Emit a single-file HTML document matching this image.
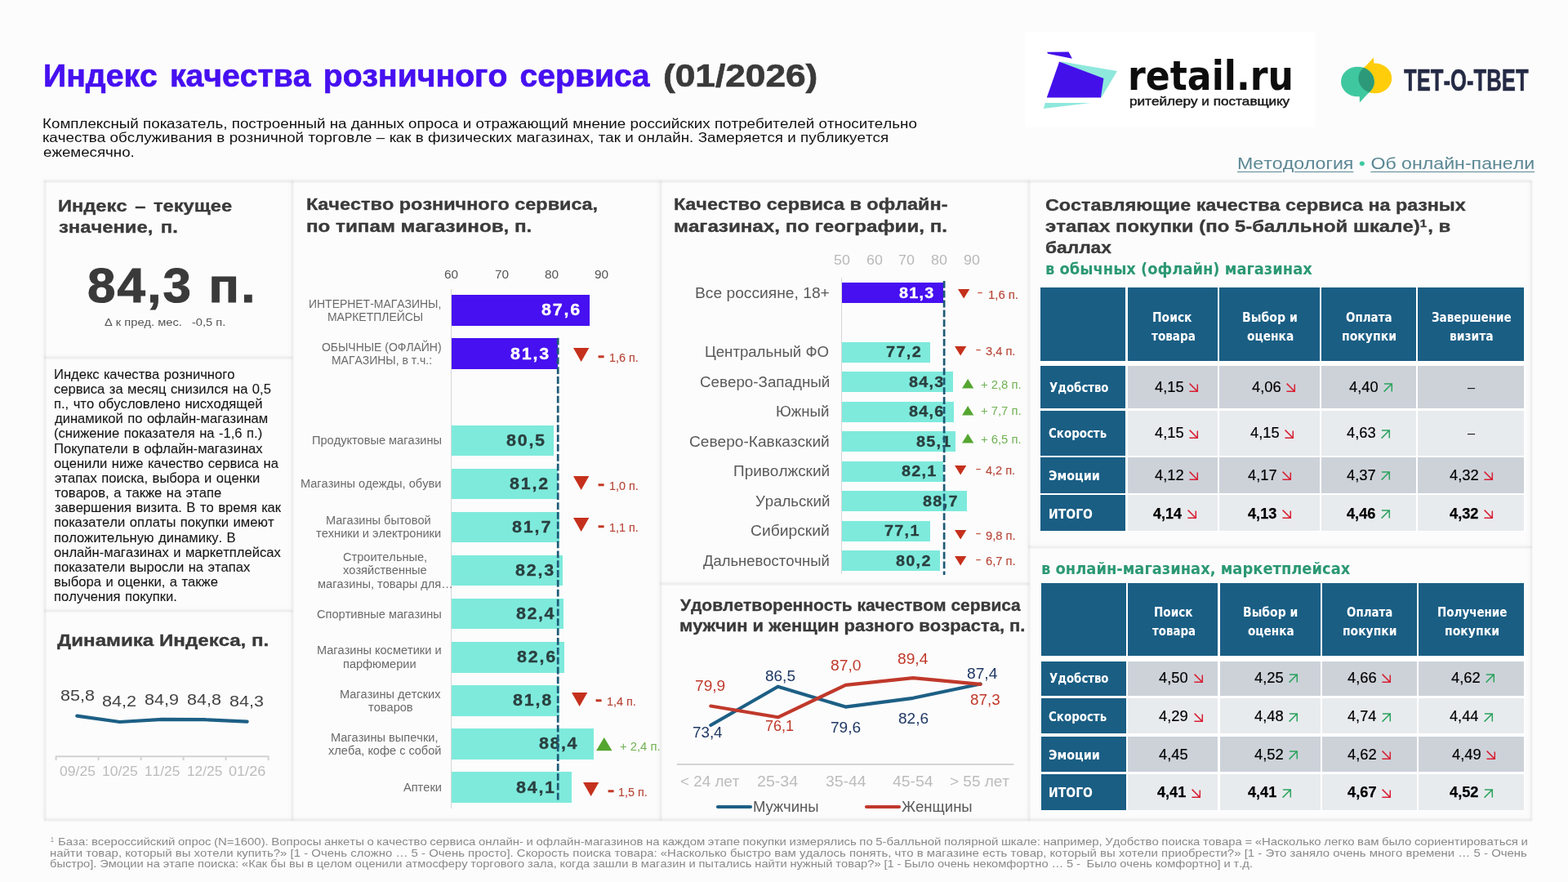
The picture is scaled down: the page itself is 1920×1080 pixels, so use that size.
<!DOCTYPE html>
<html lang="ru"><head><meta charset="utf-8"><title>Индекс качества розничного сервиса (01/2026)</title>
<style>
html,body{margin:0;padding:0}
body{width:1920px;height:1080px;overflow:hidden;background:#fcfcfc;position:relative;font-family:"Liberation Sans",sans-serif}
.t{position:absolute;white-space:pre;line-height:1;transform-origin:0 0;font-kerning:none;font-variant-ligatures:none}
h1,h2,h3,p,nav,footer{margin:0;padding:0;font:inherit}
.r,.s,.card{position:absolute}
.s{overflow:visible}
.card{background:#fcfcfc}
.gl{position:absolute;box-shadow:0 0 2.4px 0.7px rgba(0,0,0,.115),-2.5px -2.5px 5px 1px rgba(0,0,0,.03)}
a{color:inherit}
</style></head><body>
<div class="gl" style="left:55.30px;top:222.40px;width:0;height:781.30px"></div>
<div class="gl" style="left:358.40px;top:222.40px;width:0;height:781.30px"></div>
<div class="gl" style="left:809.30px;top:222.40px;width:0;height:781.30px"></div>
<div class="gl" style="left:1259.60px;top:222.40px;width:0;height:781.30px"></div>
<div class="gl" style="left:1875.00px;top:222.40px;width:0;height:781.30px"></div>
<div class="gl" style="left:55.30px;top:222.40px;width:1819.70px;height:0"></div>
<div class="gl" style="left:55.30px;top:1003.70px;width:1819.70px;height:0"></div>
<div class="gl" style="left:55.30px;top:437.50px;width:303.10px;height:0"></div>
<div class="gl" style="left:55.30px;top:747.50px;width:303.10px;height:0"></div>
<div class="gl" style="left:809.30px;top:715.30px;width:450.30px;height:0"></div>
<div class="gl" style="left:1259.60px;top:669.80px;width:615.40px;height:0"></div>
<h1>
<span class="t" style="left:53.20px;top:74.40px;font-size:38.7px;font-weight:700;color:#4610f0;word-spacing:4.236px;transform:scaleX(1.0120);-webkit-text-stroke:0.66px currentColor;">Индекс качества розничного сервиса</span>
<span class="t" style="left:811.55px;top:74.20px;font-size:38.7px;font-weight:700;color:#3a3a3a;transform:scaleX(1.1433);-webkit-text-stroke:0.66px currentColor;">(01/2026)</span>
</h1>
<p>
<span class="t" style="left:51.96px;top:143.10px;font-size:16.5px;color:#111;word-spacing:0.066px;transform:scaleX(1.1380);">Комплексный показатель, построенный на данных опроса и отражающий мнение российских потребителей относительно</span>
<span class="t" style="left:52.23px;top:160.40px;font-size:16.5px;color:#111;word-spacing:0.089px;transform:scaleX(1.1380);">качества обслуживания в розничной торговле – как в физических магазинах, так и онлайн. Замеряется и публикуется</span>
<span class="t" style="left:52.70px;top:177.60px;font-size:16.5px;color:#111;transform:scaleX(1.1343);">ежемесячно.</span>
</p>
<div class="r" style="left:1255.00px;top:38.50px;width:355.00px;height:117.50px;background:#ffffff;"></div>
<svg class="s" style="left:1270px;top:55px" width="110" height="85" viewBox="1270 55 110 85">
<polygon points="1299,75.3 1368,86.9 1348.7,119.3 1320,100" fill="#8fe8dc"/>
<polygon points="1279.8,126.1 1335.5,126.1 1277.8,133" fill="#8fe8dc"/>
<polygon points="1282.2,63.7 1308.6,63.4 1312.9,71.8 1283,65.7" fill="#4410ea"/>
<polygon points="1297.1,75.5 1351.4,95.9 1347.9,119.6 1281.8,119.6" fill="#4410ea"/>
</svg>
<div class="t" style="left:1380.59px;top:67.50px;font-size:50.5px;font-weight:700;color:#0d0d0d;font-family:'DejaVu Sans', sans-serif;transform:scaleX(0.8745);">retail.ru</div>
<div class="t" style="left:1383.20px;top:117.40px;font-size:14.2px;color:#1a1a1a;transform:scaleX(1.2066);-webkit-text-stroke:0.45px currentColor;">ритейлеру и поставщику</div>
<svg class="s" style="left:1635px;top:65px" width="80" height="70" viewBox="1635 65 80 70">
<defs><clipPath id="yc"><ellipse cx="1683.8" cy="95.9" rx="20.4" ry="18.4"/></clipPath></defs>
<polygon points="1669.5,84 1681.8,70.6 1682.6,80" fill="#ffcd0a"/>
<ellipse cx="1683.8" cy="95.9" rx="20.4" ry="18.4" fill="#ffcd0a"/>
<polygon points="1664.6,116 1664.9,125.4 1676.5,113" fill="#3fc8a0"/>
<ellipse cx="1662.4" cy="100" rx="20.4" ry="18.3" fill="#3fc8a0"/>
<ellipse cx="1662.4" cy="100" rx="20.4" ry="18.3" fill="#2c9a78" clip-path="url(#yc)"/>
</svg>
<div class="t" style="left:1719.01px;top:79.90px;font-size:37px;font-weight:700;color:#252a45;transform:scaleX(0.6938);-webkit-text-stroke:0.5px currentColor;">ТЕТ-О-ТВЕТ</div>
<nav>
<span class="t" style="left:1514.90px;top:189.60px;font-size:20.8px;color:#5b8794;transform:scaleX(1.1137);"><a style="text-decoration:underline;text-underline-offset:2.5px;text-decoration-thickness:1.3px">Методология</a> <span style="color:#3ec9a0">•</span> <a style="text-decoration:underline;text-underline-offset:2.5px;text-decoration-thickness:1.3px">Об онлайн-панели</a></span>
</nav>
<h2>
<span class="t" style="left:71.03px;top:241.90px;font-size:20.8px;font-weight:700;color:#3a3a3a;word-spacing:2.656px;transform:scaleX(1.1388);-webkit-text-stroke:0.35px currentColor;">Индекс – текущее</span>
<span class="t" style="left:71.58px;top:267.80px;font-size:20.8px;font-weight:700;color:#3a3a3a;word-spacing:2.585px;transform:scaleX(1.1438);-webkit-text-stroke:0.35px currentColor;">значение, п.</span>
</h2>
<div class="t" style="left:106.94px;top:320.75px;font-size:58.67px;font-weight:700;color:#3a3a3a;letter-spacing:2.082px;transform:scaleX(1.0550);-webkit-text-stroke:1.0px currentColor;">84,3 п.</div>
<div class="t" style="left:128.06px;top:388.40px;font-size:13.33px;color:#555;transform:scaleX(1.0981);">Δ к пред. мес.   -0,5 п.</div>
<p>
<span class="t" style="left:65.64px;top:449.70px;font-size:16.4px;color:#151515;word-spacing:0.850px;transform:scaleX(1.0120);-webkit-text-stroke:0.1px currentColor;">Индекс качества розничного</span>
<span class="t" style="left:66.29px;top:467.88px;font-size:16.4px;color:#151515;word-spacing:0.850px;transform:scaleX(1.0120);-webkit-text-stroke:0.1px currentColor;">сервиса за месяц снизился на 0,5</span>
<span class="t" style="left:65.85px;top:486.05px;font-size:16.4px;color:#151515;word-spacing:0.850px;transform:scaleX(1.0120);-webkit-text-stroke:0.1px currentColor;">п., что обусловлено нисходящей</span>
<span class="t" style="left:66.84px;top:504.23px;font-size:16.4px;color:#151515;word-spacing:0.850px;transform:scaleX(1.0120);-webkit-text-stroke:0.1px currentColor;">динамикой по офлайн-магазинам</span>
<span class="t" style="left:65.97px;top:522.40px;font-size:16.4px;color:#151515;word-spacing:0.850px;transform:scaleX(1.0120);-webkit-text-stroke:0.1px currentColor;">(снижение показателя на -1,6 п.)</span>
<span class="t" style="left:65.65px;top:540.58px;font-size:16.4px;color:#151515;word-spacing:0.850px;transform:scaleX(1.0120);-webkit-text-stroke:0.1px currentColor;">Покупатели в офлайн-магазинах</span>
<span class="t" style="left:66.30px;top:558.75px;font-size:16.4px;color:#151515;word-spacing:0.850px;transform:scaleX(1.0120);-webkit-text-stroke:0.1px currentColor;">оценили ниже качество сервиса на</span>
<span class="t" style="left:66.55px;top:576.92px;font-size:16.4px;color:#151515;word-spacing:0.850px;transform:scaleX(1.0120);-webkit-text-stroke:0.1px currentColor;">этапах поиска, выбора и оценки</span>
<span class="t" style="left:66.72px;top:595.10px;font-size:16.4px;color:#151515;word-spacing:0.850px;transform:scaleX(1.0120);-webkit-text-stroke:0.1px currentColor;">товаров, а также на этапе</span>
<span class="t" style="left:66.60px;top:613.27px;font-size:16.4px;color:#151515;word-spacing:0.850px;transform:scaleX(1.0120);-webkit-text-stroke:0.1px currentColor;">завершения визита. В то время как</span>
<span class="t" style="left:65.85px;top:631.45px;font-size:16.4px;color:#151515;word-spacing:0.850px;transform:scaleX(1.0120);-webkit-text-stroke:0.1px currentColor;">показатели оплаты покупки имеют</span>
<span class="t" style="left:65.85px;top:649.62px;font-size:16.4px;color:#151515;word-spacing:0.850px;transform:scaleX(1.0120);-webkit-text-stroke:0.1px currentColor;">положительную динамику. В</span>
<span class="t" style="left:66.30px;top:667.80px;font-size:16.4px;color:#151515;word-spacing:0.850px;transform:scaleX(1.0120);-webkit-text-stroke:0.1px currentColor;">онлайн-магазинах и маркетплейсах</span>
<span class="t" style="left:65.85px;top:685.98px;font-size:16.4px;color:#151515;word-spacing:0.850px;transform:scaleX(1.0120);-webkit-text-stroke:0.1px currentColor;">показатели выросли на этапах</span>
<span class="t" style="left:65.85px;top:704.15px;font-size:16.4px;color:#151515;word-spacing:0.850px;transform:scaleX(1.0120);-webkit-text-stroke:0.1px currentColor;">выбора и оценки, а также</span>
<span class="t" style="left:65.85px;top:722.33px;font-size:16.4px;color:#151515;word-spacing:0.850px;transform:scaleX(1.0120);-webkit-text-stroke:0.1px currentColor;">получения покупки.</span>
</p>
<h2>
<span class="t" style="left:70.49px;top:774.20px;font-size:20.8px;font-weight:700;color:#3a3a3a;transform:scaleX(1.1610);-webkit-text-stroke:0.35px currentColor;">Динамика Индекса, п.</span>
</h2>
<div class="t" style="left:73.57px;top:842.00px;font-size:19.2px;color:#444;transform:scaleX(1.1204);">85,8</div>
<div class="t" style="left:125.31px;top:849.00px;font-size:19.2px;color:#444;transform:scaleX(1.1246);">84,2</div>
<div class="t" style="left:177.06px;top:846.50px;font-size:19.2px;color:#444;transform:scaleX(1.1228);">84,9</div>
<div class="t" style="left:229.07px;top:846.50px;font-size:19.2px;color:#444;transform:scaleX(1.1204);">84,8</div>
<div class="t" style="left:280.81px;top:849.00px;font-size:19.2px;color:#444;transform:scaleX(1.1207);">84,3</div>
<svg class="s" style="left:60px;top:860px" width="290" height="80" viewBox="60 860 290 80">
<polyline points="94.3,876.6 146.7,884 198.5,880.9 250,881.2 302.6,883.7" fill="none" stroke="#1d5f85" stroke-width="4.2" stroke-linejoin="round" stroke-linecap="round"/>
<path d="M68.6 931V926.2H328.6V931M120.6 926.2V931M172.6 926.2V931M224.6 926.2V931M276.6 926.2V931" fill="none" stroke="#d2d2d2" stroke-width="2"/>
</svg>
<div class="t" style="left:73.06px;top:935.60px;font-size:16.5px;color:#bcbcbc;transform:scaleX(1.0638);">09/25</div>
<div class="t" style="left:124.92px;top:935.60px;font-size:16.5px;color:#bcbcbc;transform:scaleX(1.0612);">10/25</div>
<div class="t" style="left:177.43px;top:935.60px;font-size:16.5px;color:#bcbcbc;transform:scaleX(1.0485);">11/25</div>
<div class="t" style="left:229.18px;top:935.60px;font-size:16.5px;color:#bcbcbc;transform:scaleX(1.0485);">12/25</div>
<div class="t" style="left:279.79px;top:935.60px;font-size:16.5px;color:#bcbcbc;transform:scaleX(1.0959);">01/26</div>
<h2>
<span class="t" style="left:375.43px;top:239.90px;font-size:20.8px;font-weight:700;color:#3a3a3a;transform:scaleX(1.1271);-webkit-text-stroke:0.35px currentColor;">Качество розничного сервиса,</span>
<span class="t" style="left:375.31px;top:266.90px;font-size:20.8px;font-weight:700;color:#3a3a3a;transform:scaleX(1.1632);-webkit-text-stroke:0.35px currentColor;">по типам магазинов, п.</span>
</h2>
<div class="t" style="left:544.05px;top:329.00px;font-size:14px;color:#555;transform:scaleX(1.1000);">60</div>
<div class="t" style="left:605.64px;top:329.00px;font-size:14px;color:#555;transform:scaleX(1.1000);">70</div>
<div class="t" style="left:666.60px;top:329.00px;font-size:14px;color:#555;transform:scaleX(1.1000);">80</div>
<div class="t" style="left:727.78px;top:329.00px;font-size:14px;color:#555;transform:scaleX(1.1000);">90</div>
<div class="r" style="left:552.00px;top:353.50px;width:1.20px;height:636.50px;background:#d6d6d6;"></div>
<div class="r" style="left:553.20px;top:361.25px;width:168.50px;height:37.50px;background:#4610f0;"></div>
<div class="r" style="left:553.20px;top:414.35px;width:130.04px;height:37.50px;background:#4610f0;"></div>
<div class="r" style="left:553.20px;top:520.55px;width:125.15px;height:37.50px;background:#7eeadc;"></div>
<div class="r" style="left:553.20px;top:573.65px;width:129.43px;height:37.50px;background:#7eeadc;"></div>
<div class="r" style="left:553.20px;top:626.75px;width:131.60px;height:37.50px;background:#7eeadc;"></div>
<div class="r" style="left:553.20px;top:679.85px;width:136.14px;height:37.50px;background:#7eeadc;"></div>
<div class="r" style="left:553.20px;top:732.95px;width:136.75px;height:37.50px;background:#7eeadc;"></div>
<div class="r" style="left:553.20px;top:786.05px;width:137.97px;height:37.50px;background:#7eeadc;"></div>
<div class="r" style="left:553.20px;top:839.15px;width:131.60px;height:37.50px;background:#7eeadc;"></div>
<div class="r" style="left:553.20px;top:892.25px;width:173.38px;height:37.50px;background:#7eeadc;"></div>
<div class="r" style="left:553.20px;top:945.35px;width:147.13px;height:37.50px;background:#7eeadc;"></div>
<div class="t" style="left:663.27px;top:370.40px;font-size:19.5px;font-weight:700;color:#fff;letter-spacing:1.654px;transform:scaleX(1.1000);-webkit-text-stroke:0.3px currentColor;">87,6</div>
<div class="t" style="left:378.46px;top:364.68px;font-size:14.67px;color:#6a6a6a;transform:scaleX(0.9520);">ИНТЕРНЕТ-МАГАЗИНЫ,</div>
<div class="t" style="left:401.03px;top:380.93px;font-size:14.67px;color:#6a6a6a;transform:scaleX(0.9520);">МАРКЕТПЛЕЙСЫ</div>
<div class="t" style="left:624.81px;top:423.50px;font-size:19.5px;font-weight:700;color:#fff;letter-spacing:1.654px;transform:scaleX(1.1000);-webkit-text-stroke:0.3px currentColor;">81,3</div>
<div class="t" style="left:393.84px;top:417.78px;font-size:14.67px;color:#6a6a6a;transform:scaleX(0.9520);">ОБЫЧНЫЕ (ОФЛАЙН)</div>
<div class="t" style="left:405.60px;top:434.03px;font-size:14.67px;color:#6a6a6a;transform:scaleX(0.9520);">МАГАЗИНЫ, в т.ч.:</div>
<svg class="s" style="left:701.70px;top:425.75px" width="19.3" height="16.9" viewBox="0 0 19.3 16.9"><path d="M0 0H19.3L9.65 16.9Z" fill="#c5301c"/></svg>
<div class="t" style="left:731.55px;top:423.90px;font-size:21px;font-weight:700;color:#c23a26;transform:scaleX(1.1628);-webkit-text-stroke:0.6px currentColor;">-</div>
<div class="t" style="left:745.50px;top:430.50px;font-size:14px;color:#b8483a;transform:scaleX(1.0284);-webkit-text-stroke:0.15px currentColor;">1,6 п.</div>
<div class="t" style="left:619.92px;top:529.70px;font-size:19.5px;font-weight:700;color:#2a3f3f;letter-spacing:1.600px;transform:scaleX(1.1000);-webkit-text-stroke:0.3px currentColor;">80,5</div>
<div class="t" style="left:381.57px;top:532.10px;font-size:14.67px;color:#6a6a6a;transform:scaleX(0.9950);">Продуктовые магазины</div>
<div class="t" style="left:624.20px;top:582.80px;font-size:19.5px;font-weight:700;color:#2a3f3f;letter-spacing:1.679px;transform:scaleX(1.1000);-webkit-text-stroke:0.3px currentColor;">81,2</div>
<div class="t" style="left:368.22px;top:585.20px;font-size:14.67px;color:#6a6a6a;transform:scaleX(0.9950);">Магазины одежды, обуви</div>
<svg class="s" style="left:702.15px;top:583.25px" width="19.3" height="16.9" viewBox="0 0 19.3 16.9"><path d="M0 0H19.3L9.65 16.9Z" fill="#c5301c"/></svg>
<div class="t" style="left:731.55px;top:581.40px;font-size:21px;font-weight:700;color:#c23a26;transform:scaleX(1.1628);-webkit-text-stroke:0.6px currentColor;">-</div>
<div class="t" style="left:745.75px;top:588.00px;font-size:14px;color:#b8483a;transform:scaleX(1.0284);-webkit-text-stroke:0.15px currentColor;">1,0 п.</div>
<div class="t" style="left:627.25px;top:635.90px;font-size:19.5px;font-weight:700;color:#2a3f3f;letter-spacing:1.705px;transform:scaleX(1.1000);-webkit-text-stroke:0.3px currentColor;">81,7</div>
<div class="t" style="left:399.18px;top:630.17px;font-size:14.67px;color:#6a6a6a;transform:scaleX(0.9950);">Магазины бытовой</div>
<div class="t" style="left:387.45px;top:646.42px;font-size:14.67px;color:#6a6a6a;transform:scaleX(0.9950);">техники и электроники</div>
<svg class="s" style="left:702.15px;top:634.00px" width="19.3" height="16.9" viewBox="0 0 19.3 16.9"><path d="M0 0H19.3L9.65 16.9Z" fill="#c5301c"/></svg>
<div class="t" style="left:731.55px;top:632.10px;font-size:21px;font-weight:700;color:#c23a26;transform:scaleX(1.1628);-webkit-text-stroke:0.6px currentColor;">-</div>
<div class="t" style="left:745.75px;top:638.70px;font-size:14px;color:#b8483a;transform:scaleX(1.0284);-webkit-text-stroke:0.15px currentColor;">1,1 п.</div>
<div class="t" style="left:630.91px;top:689.00px;font-size:19.5px;font-weight:700;color:#2a3f3f;letter-spacing:1.654px;transform:scaleX(1.1000);-webkit-text-stroke:0.3px currentColor;">82,3</div>
<div class="t" style="left:419.90px;top:675.15px;font-size:14.67px;color:#6a6a6a;transform:scaleX(0.9950);">Строительные,</div>
<div class="t" style="left:420.12px;top:691.40px;font-size:14.67px;color:#6a6a6a;transform:scaleX(0.9950);">хозяйственные</div>
<div class="t" style="left:388.74px;top:707.65px;font-size:14.67px;color:#6a6a6a;transform:scaleX(0.9950);">магазины, товары для…</div>
<div class="t" style="left:631.52px;top:742.10px;font-size:19.5px;font-weight:700;color:#2a3f3f;letter-spacing:1.454px;transform:scaleX(1.1000);-webkit-text-stroke:0.3px currentColor;">82,4</div>
<div class="t" style="left:387.72px;top:744.50px;font-size:14.67px;color:#6a6a6a;transform:scaleX(0.9950);">Спортивные магазины</div>
<div class="t" style="left:632.74px;top:795.20px;font-size:19.5px;font-weight:700;color:#2a3f3f;letter-spacing:1.654px;transform:scaleX(1.1000);-webkit-text-stroke:0.3px currentColor;">82,6</div>
<div class="t" style="left:388.00px;top:789.47px;font-size:14.67px;color:#6a6a6a;transform:scaleX(0.9950);">Магазины косметики и</div>
<div class="t" style="left:419.61px;top:805.72px;font-size:14.67px;color:#6a6a6a;transform:scaleX(0.9950);">парфюмерии</div>
<div class="t" style="left:627.86px;top:848.30px;font-size:19.5px;font-weight:700;color:#2a3f3f;letter-spacing:1.619px;transform:scaleX(1.1000);-webkit-text-stroke:0.3px currentColor;">81,8</div>
<div class="t" style="left:416.23px;top:842.58px;font-size:14.67px;color:#6a6a6a;transform:scaleX(0.9950);">Магазины детских</div>
<div class="t" style="left:451.42px;top:858.83px;font-size:14.67px;color:#6a6a6a;transform:scaleX(0.9950);">товаров</div>
<svg class="s" style="left:700.15px;top:847.50px" width="19.3" height="16.9" viewBox="0 0 19.3 16.9"><path d="M0 0H19.3L9.65 16.9Z" fill="#c5301c"/></svg>
<div class="t" style="left:729.35px;top:845.30px;font-size:21px;font-weight:700;color:#c23a26;transform:scaleX(1.1628);-webkit-text-stroke:0.6px currentColor;">-</div>
<div class="t" style="left:743.30px;top:851.90px;font-size:14px;color:#b8483a;transform:scaleX(1.0284);-webkit-text-stroke:0.15px currentColor;">1,4 п.</div>
<div class="t" style="left:659.82px;top:901.40px;font-size:19.5px;font-weight:700;color:#2a3f3f;letter-spacing:1.454px;transform:scaleX(1.1000);-webkit-text-stroke:0.3px currentColor;">88,4</div>
<div class="t" style="left:405.22px;top:895.67px;font-size:14.67px;color:#6a6a6a;transform:scaleX(0.9950);">Магазины выпечки,</div>
<div class="t" style="left:402.10px;top:911.92px;font-size:14.67px;color:#6a6a6a;transform:scaleX(0.9950);">хлеба, кофе с собой</div>
<svg class="s" style="left:730.00px;top:902.50px" width="19.5" height="16.25" viewBox="0 0 19.5 16.25"><path d="M0 16.25H19.5L9.75 0Z" fill="#55a630"/></svg>
<div class="t" style="left:759.28px;top:906.75px;font-size:14px;color:#70b153;transform:scaleX(1.0573);">+ 2,4 п.</div>
<div class="t" style="left:631.77px;top:954.50px;font-size:19.5px;font-weight:700;color:#2a3f3f;letter-spacing:1.600px;transform:scaleX(1.1000);-webkit-text-stroke:0.3px currentColor;">84,1</div>
<div class="t" style="left:493.73px;top:956.90px;font-size:14.67px;color:#6a6a6a;transform:scaleX(0.9950);">Аптеки</div>
<svg class="s" style="left:713.65px;top:958.00px" width="19.3" height="16.9" viewBox="0 0 19.3 16.9"><path d="M0 0H19.3L9.65 16.9Z" fill="#c5301c"/></svg>
<div class="t" style="left:743.85px;top:955.90px;font-size:21px;font-weight:700;color:#c23a26;transform:scaleX(1.1628);-webkit-text-stroke:0.6px currentColor;">-</div>
<div class="t" style="left:756.80px;top:962.50px;font-size:14px;color:#b8483a;transform:scaleX(1.0284);-webkit-text-stroke:0.15px currentColor;">1,5 п.</div>
<svg class="s" style="left:680px;top:410px" width="8" height="575" viewBox="680 410 8 575"><line x1="683.2" y1="413.7" x2="683.2" y2="981.5" stroke="#1c5a76" stroke-width="2.7" stroke-dasharray="8.8 3.05"/></svg>
<h2>
<span class="t" style="left:825.43px;top:239.90px;font-size:20.8px;font-weight:700;color:#3a3a3a;transform:scaleX(1.1266);-webkit-text-stroke:0.35px currentColor;">Качество сервиса в офлайн-</span>
<span class="t" style="left:825.31px;top:266.90px;font-size:20.8px;font-weight:700;color:#3a3a3a;transform:scaleX(1.1629);-webkit-text-stroke:0.35px currentColor;">магазинах, по географии, п.</span>
</h2>
<div class="t" style="left:1020.98px;top:310.30px;font-size:16.5px;color:#b8b8b8;transform:scaleX(1.0800);">50</div>
<div class="t" style="left:1060.58px;top:310.30px;font-size:16.5px;color:#b8b8b8;transform:scaleX(1.0800);">60</div>
<div class="t" style="left:1100.48px;top:310.30px;font-size:16.5px;color:#b8b8b8;transform:scaleX(1.0800);">70</div>
<div class="t" style="left:1140.25px;top:310.30px;font-size:16.5px;color:#b8b8b8;transform:scaleX(1.0800);">80</div>
<div class="t" style="left:1180.02px;top:310.30px;font-size:16.5px;color:#b8b8b8;transform:scaleX(1.0800);">90</div>
<div class="r" style="left:1030.00px;top:340.30px;width:1.20px;height:362.70px;background:#d6d6d6;"></div>
<div class="r" style="left:1031.20px;top:345.80px;width:123.60px;height:25.20px;background:#4610f0;"></div>
<div class="r" style="left:1031.20px;top:418.60px;width:107.71px;height:25.20px;background:#7eeadc;"></div>
<div class="r" style="left:1031.20px;top:455.10px;width:135.83px;height:25.20px;background:#7eeadc;"></div>
<div class="r" style="left:1031.20px;top:491.60px;width:137.02px;height:25.20px;background:#7eeadc;"></div>
<div class="r" style="left:1031.20px;top:528.10px;width:139.00px;height:25.20px;background:#7eeadc;"></div>
<div class="r" style="left:1031.20px;top:564.60px;width:124.20px;height:25.20px;background:#7eeadc;"></div>
<div class="r" style="left:1031.20px;top:601.10px;width:153.25px;height:25.20px;background:#7eeadc;"></div>
<div class="r" style="left:1031.20px;top:637.60px;width:107.32px;height:25.20px;background:#7eeadc;"></div>
<div class="r" style="left:1031.20px;top:674.10px;width:119.59px;height:25.20px;background:#7eeadc;"></div>
<div class="t" style="left:850.62px;top:349.50px;font-size:18px;color:#5a5a5a;transform:scaleX(1.0680);">Все россияне, 18+</div>
<div class="t" style="left:1101.12px;top:349.50px;font-size:18px;font-weight:700;color:#fff;letter-spacing:1.154px;transform:scaleX(1.1000);-webkit-text-stroke:0.3px currentColor;">81,3</div>
<svg class="s" style="left:1173.20px;top:354.40px" width="14.3" height="11.5" viewBox="0 0 14.3 11.5"><path d="M0 0H14.3L7.15 11.5Z" fill="#c5301c"/></svg>
<div class="t" style="left:1197.44px;top:354.45px;font-size:10px;font-weight:700;color:#c0452f;transform:scaleX(1.0968);">−</div>
<div class="t" style="left:1209.87px;top:353.75px;font-size:14px;color:#b8483a;transform:scaleX(1.0623);-webkit-text-stroke:0.15px currentColor;">1,6 п.</div>
<div class="t" style="left:863.37px;top:422.30px;font-size:18px;color:#5a5a5a;transform:scaleX(1.0339);">Центральный ФО</div>
<div class="t" style="left:1084.66px;top:422.30px;font-size:18px;font-weight:700;color:#2a3f3f;letter-spacing:1.245px;transform:scaleX(1.1000);-webkit-text-stroke:0.3px currentColor;">77,2</div>
<svg class="s" style="left:1169.45px;top:423.90px" width="14.3" height="11.5" viewBox="0 0 14.3 11.5"><path d="M0 0H14.3L7.15 11.5Z" fill="#c5301c"/></svg>
<div class="t" style="left:1194.94px;top:423.70px;font-size:10px;font-weight:700;color:#c0452f;transform:scaleX(1.0968);">−</div>
<div class="t" style="left:1206.94px;top:423.00px;font-size:14px;color:#b8483a;transform:scaleX(1.0451);-webkit-text-stroke:0.15px currentColor;">3,4 п.</div>
<div class="t" style="left:856.55px;top:458.80px;font-size:18px;color:#5a5a5a;transform:scaleX(1.0431);">Северо-Западный</div>
<div class="t" style="left:1113.00px;top:458.80px;font-size:18px;font-weight:700;color:#2a3f3f;letter-spacing:1.154px;transform:scaleX(1.1000);-webkit-text-stroke:0.3px currentColor;">84,3</div>
<svg class="s" style="left:1177.95px;top:464.10px" width="14.3" height="11.6" viewBox="0 0 14.3 11.6"><path d="M0 11.6H14.3L7.15 0Z" fill="#55a630"/></svg>
<div class="t" style="left:1201.03px;top:463.50px;font-size:14px;color:#70b153;transform:scaleX(1.0573);">+ 2,8 п.</div>
<div class="t" style="left:950.47px;top:495.30px;font-size:18px;color:#5a5a5a;transform:scaleX(1.0342);">Южный</div>
<div class="t" style="left:1112.87px;top:495.30px;font-size:18px;font-weight:700;color:#2a3f3f;letter-spacing:1.154px;transform:scaleX(1.1000);-webkit-text-stroke:0.3px currentColor;">84,6</div>
<svg class="s" style="left:1177.95px;top:496.60px" width="14.3" height="11.6" viewBox="0 0 14.3 11.6"><path d="M0 11.6H14.3L7.15 0Z" fill="#55a630"/></svg>
<div class="t" style="left:1201.03px;top:495.90px;font-size:14px;color:#70b153;transform:scaleX(1.0573);">+ 7,7 п.</div>
<div class="t" style="left:844.03px;top:531.80px;font-size:18px;color:#5a5a5a;transform:scaleX(1.0619);">Северо-Кавказский</div>
<div class="t" style="left:1122.12px;top:531.80px;font-size:18px;font-weight:700;color:#2a3f3f;letter-spacing:1.104px;transform:scaleX(1.1000);-webkit-text-stroke:0.3px currentColor;">85,1</div>
<svg class="s" style="left:1177.95px;top:531.10px" width="14.3" height="11.6" viewBox="0 0 14.3 11.6"><path d="M0 11.6H14.3L7.15 0Z" fill="#55a630"/></svg>
<div class="t" style="left:1201.03px;top:530.50px;font-size:14px;color:#70b153;transform:scaleX(1.0573);">+ 6,5 п.</div>
<div class="t" style="left:897.71px;top:568.30px;font-size:18px;color:#5a5a5a;transform:scaleX(1.0535);">Приволжский</div>
<div class="t" style="left:1104.29px;top:568.30px;font-size:18px;font-weight:700;color:#2a3f3f;letter-spacing:1.104px;transform:scaleX(1.1000);-webkit-text-stroke:0.3px currentColor;">82,1</div>
<svg class="s" style="left:1169.45px;top:569.90px" width="14.3" height="11.5" viewBox="0 0 14.3 11.5"><path d="M0 0H14.3L7.15 11.5Z" fill="#c5301c"/></svg>
<div class="t" style="left:1194.94px;top:569.70px;font-size:10px;font-weight:700;color:#c0452f;transform:scaleX(1.0968);">−</div>
<div class="t" style="left:1207.17px;top:569.00px;font-size:14px;color:#b8483a;transform:scaleX(1.0384);-webkit-text-stroke:0.15px currentColor;">4,2 п.</div>
<div class="t" style="left:924.50px;top:604.80px;font-size:18px;color:#5a5a5a;transform:scaleX(1.0336);">Уральский</div>
<div class="t" style="left:1130.42px;top:604.80px;font-size:18px;font-weight:700;color:#2a3f3f;letter-spacing:1.201px;transform:scaleX(1.1000);-webkit-text-stroke:0.3px currentColor;">88,7</div>
<div class="t" style="left:919.02px;top:641.30px;font-size:18px;color:#5a5a5a;transform:scaleX(1.0708);">Сибирский</div>
<div class="t" style="left:1082.75px;top:641.30px;font-size:18px;font-weight:700;color:#2a3f3f;letter-spacing:1.171px;transform:scaleX(1.1000);-webkit-text-stroke:0.3px currentColor;">77,1</div>
<svg class="s" style="left:1169.45px;top:649.40px" width="14.3" height="11.5" viewBox="0 0 14.3 11.5"><path d="M0 0H14.3L7.15 11.5Z" fill="#c5301c"/></svg>
<div class="t" style="left:1194.94px;top:649.20px;font-size:10px;font-weight:700;color:#c0452f;transform:scaleX(1.0968);">−</div>
<div class="t" style="left:1206.81px;top:648.50px;font-size:14px;color:#b8483a;transform:scaleX(1.0490);-webkit-text-stroke:0.15px currentColor;">9,8 п.</div>
<div class="t" style="left:861.12px;top:677.80px;font-size:18px;color:#5a5a5a;transform:scaleX(1.0231);">Дальневосточный</div>
<div class="t" style="left:1096.76px;top:677.80px;font-size:18px;font-weight:700;color:#2a3f3f;letter-spacing:1.177px;transform:scaleX(1.1000);-webkit-text-stroke:0.3px currentColor;">80,2</div>
<svg class="s" style="left:1169.45px;top:680.90px" width="14.3" height="11.5" viewBox="0 0 14.3 11.5"><path d="M0 0H14.3L7.15 11.5Z" fill="#c5301c"/></svg>
<div class="t" style="left:1194.94px;top:680.70px;font-size:10px;font-weight:700;color:#c0452f;transform:scaleX(1.0968);">−</div>
<div class="t" style="left:1206.75px;top:680.00px;font-size:14px;color:#b8483a;transform:scaleX(1.0508);-webkit-text-stroke:0.15px currentColor;">6,7 п.</div>
<svg class="s" style="left:1152px;top:340px" width="8" height="370" viewBox="1152 340 8 370"><line x1="1156.1" y1="343.9" x2="1156.1" y2="704" stroke="#1c5a76" stroke-width="2.7" stroke-dasharray="8.8 3.05"/></svg>
<h2>
<span class="t" style="left:833.19px;top:731.40px;font-size:20px;font-weight:700;color:#3a3a3a;transform:scaleX(1.0490);-webkit-text-stroke:0.34px currentColor;">Удовлетворенность качеством сервиса</span>
<span class="t" style="left:831.67px;top:755.60px;font-size:20px;font-weight:700;color:#3a3a3a;transform:scaleX(1.0972);-webkit-text-stroke:0.34px currentColor;">мужчин и женщин разного возраста, п.</span>
</h2>
<svg class="s" style="left:820px;top:800px" width="430" height="200" viewBox="820 800 430 200">
<line x1="828.7" y1="936" x2="1241.3" y2="936" stroke="#d4d4d4" stroke-width="2"/>
<polyline points="870.3,888.0 952.6,840.7 1035.4,865.6 1118.0,854.8 1200.5,837.5" fill="none" stroke="#1d5f85" stroke-width="4.2" stroke-linejoin="round" stroke-linecap="round"/>
<polyline points="870.3,864.5 952.6,878.3 1035.4,838.9 1118.0,830.2 1200.5,837.8" fill="none" stroke="#c0392b" stroke-width="4.2" stroke-linejoin="round" stroke-linecap="round"/>
<line x1="879" y1="988" x2="919" y2="988" stroke="#1d5f85" stroke-width="4.2" stroke-linecap="round"/>
<line x1="1061" y1="988" x2="1101" y2="988" stroke="#c0392b" stroke-width="4.2" stroke-linecap="round"/>
</svg>
<div class="t" style="left:847.85px;top:888.27px;font-size:18px;color:#1f3864;transform:scaleX(1.0430);">73,4</div>
<div class="t" style="left:936.99px;top:818.51px;font-size:18px;color:#1f3864;transform:scaleX(1.0543);">86,5</div>
<div class="t" style="left:1017.22px;top:881.67px;font-size:18px;color:#1f3864;transform:scaleX(1.0599);">79,6</div>
<div class="t" style="left:1099.78px;top:870.76px;font-size:18px;color:#1f3864;transform:scaleX(1.0554);">82,6</div>
<div class="t" style="left:1183.89px;top:815.92px;font-size:18px;color:#1f3864;transform:scaleX(1.0642);">87,4</div>
<div class="t" style="left:851.27px;top:831.43px;font-size:18px;color:#c0392b;transform:scaleX(1.0618);">79,9</div>
<div class="t" style="left:937.46px;top:879.66px;font-size:18px;color:#c0392b;transform:scaleX(1.0022);">76,1</div>
<div class="t" style="left:1016.79px;top:806.45px;font-size:18px;color:#c0392b;transform:scaleX(1.0698);">87,0</div>
<div class="t" style="left:1099.20px;top:797.83px;font-size:18px;color:#c0392b;transform:scaleX(1.0642);">89,4</div>
<div class="t" style="left:1188.21px;top:847.79px;font-size:18px;color:#c0392b;transform:scaleX(1.0468);">87,3</div>
<div class="t" style="left:832.95px;top:948.30px;font-size:18px;color:#bcbcbc;transform:scaleX(1.0456);">&lt; 24 лет</div>
<div class="t" style="left:927.07px;top:948.30px;font-size:18px;color:#bcbcbc;transform:scaleX(1.0878);">25-34</div>
<div class="t" style="left:1010.86px;top:948.30px;font-size:18px;color:#bcbcbc;transform:scaleX(1.0761);">35-44</div>
<div class="t" style="left:1093.27px;top:948.30px;font-size:18px;color:#bcbcbc;transform:scaleX(1.0759);">45-54</div>
<div class="t" style="left:1163.12px;top:948.30px;font-size:18px;color:#bcbcbc;transform:scaleX(1.0540);">&gt; 55 лет</div>
<div class="t" style="left:921.68px;top:979.30px;font-size:18px;color:#595959;transform:scaleX(1.0288);">Мужчины</div>
<div class="t" style="left:1104.25px;top:979.30px;font-size:18px;color:#595959;transform:scaleX(1.0275);">Женщины</div>
<h2>
<span class="t" style="left:1279.84px;top:241.00px;font-size:20.8px;font-weight:700;color:#3a3a3a;transform:scaleX(1.1219);-webkit-text-stroke:0.35px currentColor;">Составляющие качества сервиса на разных</span>
<span class="t" style="left:1280.19px;top:267.40px;font-size:20.8px;font-weight:700;color:#3a3a3a;transform:scaleX(1.1513);-webkit-text-stroke:0.35px currentColor;">этапах покупки (по 5-балльной шкале)<span style="font-size:0.62em;position:relative;top:-0.52em;letter-spacing:0.08em">1</span>, в</span>
<span class="t" style="left:1279.76px;top:293.40px;font-size:20.8px;font-weight:700;color:#3a3a3a;transform:scaleX(1.0937);-webkit-text-stroke:0.35px currentColor;">баллах</span>
</h2>
<h3>
<span class="t" style="left:1279.70px;top:319.80px;font-size:19.6px;font-weight:700;color:#2b9873;font-family:'DejaVu Sans Condensed', 'DejaVu Sans', sans-serif;transform:scaleX(1.0148);">в обычных (офлайн) магазинах</span>
</h3>
<h3>
<span class="t" style="left:1274.70px;top:686.80px;font-size:19.6px;font-weight:700;color:#2b9873;font-family:'DejaVu Sans Condensed', 'DejaVu Sans', sans-serif;transform:scaleX(1.0149);">в онлайн-магазинах, маркетплейсах</span>
</h3>
<div class="r" style="left:1273.00px;top:351.20px;width:594.50px;height:299.80px;background:#ffffff;"></div>
<div class="r" style="left:1274.00px;top:352.20px;width:104.40px;height:89.80px;background:#1a5e84;"></div>
<div class="r" style="left:1380.50px;top:352.20px;width:110.60px;height:89.80px;background:#1a5e84;"></div>
<div class="r" style="left:1493.20px;top:352.20px;width:123.10px;height:89.80px;background:#1a5e84;"></div>
<div class="r" style="left:1618.40px;top:352.20px;width:115.90px;height:89.80px;background:#1a5e84;"></div>
<div class="r" style="left:1736.40px;top:352.20px;width:130.10px;height:89.80px;background:#1a5e84;"></div>
<div class="t" style="left:1411.13px;top:381.50px;font-size:15.4px;font-weight:700;color:#fff;font-family:'DejaVu Sans Condensed', 'DejaVu Sans', sans-serif;transform:scaleX(1.0028);">Поиск</div>
<div class="t" style="left:1409.65px;top:404.50px;font-size:15.4px;font-weight:700;color:#fff;font-family:'DejaVu Sans Condensed', 'DejaVu Sans', sans-serif;transform:scaleX(0.9834);">товара</div>
<div class="t" style="left:1521.11px;top:381.50px;font-size:15.4px;font-weight:700;color:#fff;font-family:'DejaVu Sans Condensed', 'DejaVu Sans', sans-serif;transform:scaleX(1.0171);">Выбор и</div>
<div class="t" style="left:1526.91px;top:404.50px;font-size:15.4px;font-weight:700;color:#fff;font-family:'DejaVu Sans Condensed', 'DejaVu Sans', sans-serif;transform:scaleX(0.9957);">оценка</div>
<div class="t" style="left:1648.33px;top:381.50px;font-size:15.4px;font-weight:700;color:#fff;font-family:'DejaVu Sans Condensed', 'DejaVu Sans', sans-serif;transform:scaleX(0.9724);">Оплата</div>
<div class="t" style="left:1643.13px;top:404.50px;font-size:15.4px;font-weight:700;color:#fff;font-family:'DejaVu Sans Condensed', 'DejaVu Sans', sans-serif;transform:scaleX(1.0125);">покупки</div>
<div class="t" style="left:1753.11px;top:381.50px;font-size:15.4px;font-weight:700;color:#fff;font-family:'DejaVu Sans Condensed', 'DejaVu Sans', sans-serif;transform:scaleX(0.9767);">Завершение</div>
<div class="t" style="left:1774.84px;top:404.50px;font-size:15.4px;font-weight:700;color:#fff;font-family:'DejaVu Sans Condensed', 'DejaVu Sans', sans-serif;transform:scaleX(1.0025);">визита</div>
<div class="r" style="left:1274.00px;top:447.80px;width:104.40px;height:52.60px;background:#1a5e84;"></div>
<div class="t" style="left:1284.62px;top:468.00px;font-size:15.4px;font-weight:700;color:#fff;font-family:'DejaVu Sans Condensed', 'DejaVu Sans', sans-serif;transform:scaleX(0.9596);">Удобство</div>
<div class="r" style="left:1380.50px;top:447.80px;width:110.60px;height:52.60px;background:#cdd2d9;"></div>
<div class="t" style="left:1413.78px;top:465.00px;font-size:18.7px;color:#000;transform:scaleX(0.9806);-webkit-text-stroke:0.2px currentColor;">4,15</div>
<svg class="s" style="left:1455.90px;top:469.40px" width="12" height="12" viewBox="0 0 12 12"><path d="M0.6 0.6L10.2 10.2M0.4 10.2H10.3V1.4" fill="none" stroke="#d81f33" stroke-width="1.5"/></svg>
<div class="r" style="left:1493.20px;top:447.80px;width:123.10px;height:52.60px;background:#cdd2d9;"></div>
<div class="t" style="left:1532.88px;top:465.00px;font-size:18.7px;color:#000;transform:scaleX(0.9817);-webkit-text-stroke:0.2px currentColor;">4,06</div>
<svg class="s" style="left:1575.00px;top:469.40px" width="12" height="12" viewBox="0 0 12 12"><path d="M0.6 0.6L10.2 10.2M0.4 10.2H10.3V1.4" fill="none" stroke="#d81f33" stroke-width="1.5"/></svg>
<div class="r" style="left:1618.40px;top:447.80px;width:115.90px;height:52.60px;background:#cdd2d9;"></div>
<div class="t" style="left:1651.78px;top:465.00px;font-size:18.7px;color:#000;transform:scaleX(0.9791);-webkit-text-stroke:0.2px currentColor;">4,40</div>
<svg class="s" style="left:1693.90px;top:469.40px" width="12" height="12" viewBox="0 0 12 12"><path d="M0.6 10.6L10.2 1M0.9 1H10.3V10.4" fill="none" stroke="#2aa35c" stroke-width="1.5"/></svg>
<div class="r" style="left:1736.40px;top:447.80px;width:130.10px;height:52.60px;background:#cdd2d9;"></div>
<div class="t" style="left:1796.90px;top:465.70px;font-size:17.3px;color:#111;transform:scaleX(0.9466);">–</div>
<div class="r" style="left:1274.00px;top:503.00px;width:104.40px;height:54.50px;background:#1a5e84;"></div>
<div class="t" style="left:1284.34px;top:524.40px;font-size:15.4px;font-weight:700;color:#fff;font-family:'DejaVu Sans Condensed', 'DejaVu Sans', sans-serif;transform:scaleX(0.9675);">Скорость</div>
<div class="r" style="left:1380.50px;top:503.00px;width:110.60px;height:54.50px;background:#e8ebee;"></div>
<div class="t" style="left:1413.78px;top:521.40px;font-size:18.7px;color:#000;transform:scaleX(0.9806);-webkit-text-stroke:0.2px currentColor;">4,15</div>
<svg class="s" style="left:1455.90px;top:525.80px" width="12" height="12" viewBox="0 0 12 12"><path d="M0.6 0.6L10.2 10.2M0.4 10.2H10.3V1.4" fill="none" stroke="#d81f33" stroke-width="1.5"/></svg>
<div class="r" style="left:1493.20px;top:503.00px;width:123.10px;height:54.50px;background:#e8ebee;"></div>
<div class="t" style="left:1530.58px;top:521.40px;font-size:18.7px;color:#000;transform:scaleX(0.9806);-webkit-text-stroke:0.2px currentColor;">4,15</div>
<svg class="s" style="left:1572.70px;top:525.80px" width="12" height="12" viewBox="0 0 12 12"><path d="M0.6 0.6L10.2 10.2M0.4 10.2H10.3V1.4" fill="none" stroke="#d81f33" stroke-width="1.5"/></svg>
<div class="r" style="left:1618.40px;top:503.00px;width:115.90px;height:54.50px;background:#e8ebee;"></div>
<div class="t" style="left:1649.08px;top:521.40px;font-size:18.7px;color:#000;transform:scaleX(0.9817);-webkit-text-stroke:0.2px currentColor;">4,63</div>
<svg class="s" style="left:1691.20px;top:525.80px" width="12" height="12" viewBox="0 0 12 12"><path d="M0.6 10.6L10.2 1M0.9 1H10.3V10.4" fill="none" stroke="#2aa35c" stroke-width="1.5"/></svg>
<div class="r" style="left:1736.40px;top:503.00px;width:130.10px;height:54.50px;background:#e8ebee;"></div>
<div class="t" style="left:1796.90px;top:522.10px;font-size:17.3px;color:#111;transform:scaleX(0.9466);">–</div>
<div class="r" style="left:1274.00px;top:559.80px;width:104.40px;height:43.90px;background:#1a5e84;"></div>
<div class="t" style="left:1284.09px;top:575.80px;font-size:15.4px;font-weight:700;color:#fff;font-family:'DejaVu Sans Condensed', 'DejaVu Sans', sans-serif;transform:scaleX(1.0365);">Эмоции</div>
<div class="r" style="left:1380.50px;top:559.80px;width:110.60px;height:43.90px;background:#cdd2d9;"></div>
<div class="t" style="left:1413.78px;top:572.80px;font-size:18.7px;color:#000;transform:scaleX(0.9850);-webkit-text-stroke:0.2px currentColor;">4,12</div>
<svg class="s" style="left:1455.90px;top:577.20px" width="12" height="12" viewBox="0 0 12 12"><path d="M0.6 0.6L10.2 10.2M0.4 10.2H10.3V1.4" fill="none" stroke="#d81f33" stroke-width="1.5"/></svg>
<div class="r" style="left:1493.20px;top:559.80px;width:123.10px;height:43.90px;background:#cdd2d9;"></div>
<div class="t" style="left:1527.88px;top:572.80px;font-size:18.7px;color:#000;transform:scaleX(0.9850);-webkit-text-stroke:0.2px currentColor;">4,17</div>
<svg class="s" style="left:1570.00px;top:577.20px" width="12" height="12" viewBox="0 0 12 12"><path d="M0.6 0.6L10.2 10.2M0.4 10.2H10.3V1.4" fill="none" stroke="#d81f33" stroke-width="1.5"/></svg>
<div class="r" style="left:1618.40px;top:559.80px;width:115.90px;height:43.90px;background:#cdd2d9;"></div>
<div class="t" style="left:1649.08px;top:572.80px;font-size:18.7px;color:#000;transform:scaleX(0.9850);-webkit-text-stroke:0.2px currentColor;">4,37</div>
<svg class="s" style="left:1691.20px;top:577.20px" width="12" height="12" viewBox="0 0 12 12"><path d="M0.6 10.6L10.2 1M0.9 1H10.3V10.4" fill="none" stroke="#2aa35c" stroke-width="1.5"/></svg>
<div class="r" style="left:1736.40px;top:559.80px;width:130.10px;height:43.90px;background:#cdd2d9;"></div>
<div class="t" style="left:1774.98px;top:572.80px;font-size:18.7px;color:#000;transform:scaleX(0.9850);-webkit-text-stroke:0.2px currentColor;">4,32</div>
<svg class="s" style="left:1817.10px;top:577.20px" width="12" height="12" viewBox="0 0 12 12"><path d="M0.6 0.6L10.2 10.2M0.4 10.2H10.3V1.4" fill="none" stroke="#d81f33" stroke-width="1.5"/></svg>
<div class="r" style="left:1274.00px;top:606.00px;width:104.40px;height:44.00px;background:#1a5e84;"></div>
<div class="t" style="left:1283.72px;top:622.80px;font-size:15.4px;font-weight:700;color:#fff;font-family:'DejaVu Sans Condensed', 'DejaVu Sans', sans-serif;transform:scaleX(1.0103);">ИТОГО</div>
<div class="r" style="left:1380.50px;top:606.00px;width:110.60px;height:44.00px;background:#e8ebee;"></div>
<div class="t" style="left:1411.53px;top:619.80px;font-size:18.7px;font-weight:700;color:#000;transform:scaleX(0.9580);-webkit-text-stroke:0.25px currentColor;">4,14</div>
<svg class="s" style="left:1453.50px;top:624.20px" width="12" height="12" viewBox="0 0 12 12"><path d="M0.6 0.6L10.2 10.2M0.4 10.2H10.3V1.4" fill="none" stroke="#d81f33" stroke-width="1.5"/></svg>
<div class="r" style="left:1493.20px;top:606.00px;width:123.10px;height:44.00px;background:#e8ebee;"></div>
<div class="t" style="left:1528.02px;top:619.80px;font-size:18.7px;font-weight:700;color:#000;transform:scaleX(0.9736);-webkit-text-stroke:0.25px currentColor;">4,13</div>
<svg class="s" style="left:1570.00px;top:624.20px" width="12" height="12" viewBox="0 0 12 12"><path d="M0.6 0.6L10.2 10.2M0.4 10.2H10.3V1.4" fill="none" stroke="#d81f33" stroke-width="1.5"/></svg>
<div class="r" style="left:1618.40px;top:606.00px;width:115.90px;height:44.00px;background:#e8ebee;"></div>
<div class="t" style="left:1649.22px;top:619.80px;font-size:18.7px;font-weight:700;color:#000;transform:scaleX(0.9736);-webkit-text-stroke:0.25px currentColor;">4,46</div>
<svg class="s" style="left:1691.20px;top:624.20px" width="12" height="12" viewBox="0 0 12 12"><path d="M0.6 10.6L10.2 1M0.9 1H10.3V10.4" fill="none" stroke="#2aa35c" stroke-width="1.5"/></svg>
<div class="r" style="left:1736.40px;top:606.00px;width:130.10px;height:44.00px;background:#e8ebee;"></div>
<div class="t" style="left:1775.12px;top:619.80px;font-size:18.7px;font-weight:700;color:#000;transform:scaleX(0.9756);-webkit-text-stroke:0.25px currentColor;">4,32</div>
<svg class="s" style="left:1817.10px;top:624.20px" width="12" height="12" viewBox="0 0 12 12"><path d="M0.6 0.6L10.2 10.2M0.4 10.2H10.3V1.4" fill="none" stroke="#d81f33" stroke-width="1.5"/></svg>
<div class="r" style="left:1274.10px;top:713.20px;width:593.40px;height:279.60px;background:#ffffff;"></div>
<div class="r" style="left:1275.10px;top:714.20px;width:103.50px;height:88.80px;background:#1a5e84;"></div>
<div class="r" style="left:1380.80px;top:714.20px;width:110.60px;height:88.80px;background:#1a5e84;"></div>
<div class="r" style="left:1493.60px;top:714.20px;width:123.00px;height:88.80px;background:#1a5e84;"></div>
<div class="r" style="left:1618.80px;top:714.20px;width:115.90px;height:88.80px;background:#1a5e84;"></div>
<div class="r" style="left:1736.80px;top:714.20px;width:129.70px;height:88.80px;background:#1a5e84;"></div>
<div class="t" style="left:1412.85px;top:742.80px;font-size:15.4px;font-weight:700;color:#fff;font-family:'DejaVu Sans Condensed', 'DejaVu Sans', sans-serif;transform:scaleX(0.9815);">Поиск</div>
<div class="t" style="left:1410.65px;top:765.80px;font-size:15.4px;font-weight:700;color:#fff;font-family:'DejaVu Sans Condensed', 'DejaVu Sans', sans-serif;transform:scaleX(0.9648);">товара</div>
<div class="t" style="left:1522.12px;top:742.80px;font-size:15.4px;font-weight:700;color:#fff;font-family:'DejaVu Sans Condensed', 'DejaVu Sans', sans-serif;transform:scaleX(1.0093);">Выбор и</div>
<div class="t" style="left:1527.51px;top:765.80px;font-size:15.4px;font-weight:700;color:#fff;font-family:'DejaVu Sans Condensed', 'DejaVu Sans', sans-serif;transform:scaleX(0.9850);">оценка</div>
<div class="t" style="left:1649.34px;top:742.80px;font-size:15.4px;font-weight:700;color:#fff;font-family:'DejaVu Sans Condensed', 'DejaVu Sans', sans-serif;transform:scaleX(0.9671);">Оплата</div>
<div class="t" style="left:1643.94px;top:765.80px;font-size:15.4px;font-weight:700;color:#fff;font-family:'DejaVu Sans Condensed', 'DejaVu Sans', sans-serif;transform:scaleX(1.0047);">покупки</div>
<div class="t" style="left:1759.56px;top:742.80px;font-size:15.4px;font-weight:700;color:#fff;font-family:'DejaVu Sans Condensed', 'DejaVu Sans', sans-serif;transform:scaleX(0.9727);">Получение</div>
<div class="t" style="left:1769.03px;top:765.80px;font-size:15.4px;font-weight:700;color:#fff;font-family:'DejaVu Sans Condensed', 'DejaVu Sans', sans-serif;transform:scaleX(1.0125);">покупки</div>
<div class="r" style="left:1275.10px;top:810.00px;width:103.50px;height:41.70px;background:#1a5e84;"></div>
<div class="t" style="left:1284.62px;top:824.00px;font-size:15.4px;font-weight:700;color:#fff;font-family:'DejaVu Sans Condensed', 'DejaVu Sans', sans-serif;transform:scaleX(0.9596);">Удобство</div>
<div class="r" style="left:1380.80px;top:810.00px;width:110.60px;height:41.70px;background:#cdd2d9;"></div>
<div class="t" style="left:1419.48px;top:821.00px;font-size:18.7px;color:#000;transform:scaleX(0.9791);-webkit-text-stroke:0.2px currentColor;">4,50</div>
<svg class="s" style="left:1461.60px;top:825.40px" width="12" height="12" viewBox="0 0 12 12"><path d="M0.6 0.6L10.2 10.2M0.4 10.2H10.3V1.4" fill="none" stroke="#d81f33" stroke-width="1.5"/></svg>
<div class="r" style="left:1493.60px;top:810.00px;width:123.00px;height:41.70px;background:#cdd2d9;"></div>
<div class="t" style="left:1535.58px;top:821.00px;font-size:18.7px;color:#000;transform:scaleX(0.9806);-webkit-text-stroke:0.2px currentColor;">4,25</div>
<svg class="s" style="left:1577.70px;top:825.40px" width="12" height="12" viewBox="0 0 12 12"><path d="M0.6 10.6L10.2 1M0.9 1H10.3V10.4" fill="none" stroke="#2aa35c" stroke-width="1.5"/></svg>
<div class="r" style="left:1618.80px;top:810.00px;width:115.90px;height:41.70px;background:#cdd2d9;"></div>
<div class="t" style="left:1649.68px;top:821.00px;font-size:18.7px;color:#000;transform:scaleX(0.9817);-webkit-text-stroke:0.2px currentColor;">4,66</div>
<svg class="s" style="left:1691.80px;top:825.40px" width="12" height="12" viewBox="0 0 12 12"><path d="M0.6 0.6L10.2 10.2M0.4 10.2H10.3V1.4" fill="none" stroke="#d81f33" stroke-width="1.5"/></svg>
<div class="r" style="left:1736.80px;top:810.00px;width:129.70px;height:41.70px;background:#cdd2d9;"></div>
<div class="t" style="left:1776.98px;top:821.00px;font-size:18.7px;color:#000;transform:scaleX(0.9850);-webkit-text-stroke:0.2px currentColor;">4,62</div>
<svg class="s" style="left:1819.10px;top:825.40px" width="12" height="12" viewBox="0 0 12 12"><path d="M0.6 10.6L10.2 1M0.9 1H10.3V10.4" fill="none" stroke="#2aa35c" stroke-width="1.5"/></svg>
<div class="r" style="left:1275.10px;top:854.50px;width:103.50px;height:43.80px;background:#1a5e84;"></div>
<div class="t" style="left:1284.34px;top:871.30px;font-size:15.4px;font-weight:700;color:#fff;font-family:'DejaVu Sans Condensed', 'DejaVu Sans', sans-serif;transform:scaleX(0.9675);">Скорость</div>
<div class="r" style="left:1380.80px;top:854.50px;width:110.60px;height:43.80px;background:#e8ebee;"></div>
<div class="t" style="left:1419.48px;top:868.30px;font-size:18.7px;color:#000;transform:scaleX(0.9834);-webkit-text-stroke:0.2px currentColor;">4,29</div>
<svg class="s" style="left:1461.60px;top:872.70px" width="12" height="12" viewBox="0 0 12 12"><path d="M0.6 0.6L10.2 10.2M0.4 10.2H10.3V1.4" fill="none" stroke="#d81f33" stroke-width="1.5"/></svg>
<div class="r" style="left:1493.60px;top:854.50px;width:123.00px;height:43.80px;background:#e8ebee;"></div>
<div class="t" style="left:1535.58px;top:868.30px;font-size:18.7px;color:#000;transform:scaleX(0.9814);-webkit-text-stroke:0.2px currentColor;">4,48</div>
<svg class="s" style="left:1577.70px;top:872.70px" width="12" height="12" viewBox="0 0 12 12"><path d="M0.6 10.6L10.2 1M0.9 1H10.3V10.4" fill="none" stroke="#2aa35c" stroke-width="1.5"/></svg>
<div class="r" style="left:1618.80px;top:854.50px;width:115.90px;height:43.80px;background:#e8ebee;"></div>
<div class="t" style="left:1649.68px;top:868.30px;font-size:18.7px;color:#000;transform:scaleX(0.9741);-webkit-text-stroke:0.2px currentColor;">4,74</div>
<svg class="s" style="left:1691.80px;top:872.70px" width="12" height="12" viewBox="0 0 12 12"><path d="M0.6 10.6L10.2 1M0.9 1H10.3V10.4" fill="none" stroke="#2aa35c" stroke-width="1.5"/></svg>
<div class="r" style="left:1736.80px;top:854.50px;width:129.70px;height:43.80px;background:#e8ebee;"></div>
<div class="t" style="left:1775.28px;top:868.30px;font-size:18.7px;color:#000;transform:scaleX(0.9741);-webkit-text-stroke:0.2px currentColor;">4,44</div>
<svg class="s" style="left:1817.40px;top:872.70px" width="12" height="12" viewBox="0 0 12 12"><path d="M0.6 10.6L10.2 1M0.9 1H10.3V10.4" fill="none" stroke="#2aa35c" stroke-width="1.5"/></svg>
<div class="r" style="left:1275.10px;top:901.50px;width:103.50px;height:43.50px;background:#1a5e84;"></div>
<div class="t" style="left:1284.09px;top:917.70px;font-size:15.4px;font-weight:700;color:#fff;font-family:'DejaVu Sans Condensed', 'DejaVu Sans', sans-serif;transform:scaleX(1.0365);">Эмоции</div>
<div class="r" style="left:1380.80px;top:901.50px;width:110.60px;height:43.50px;background:#cdd2d9;"></div>
<div class="t" style="left:1418.88px;top:914.70px;font-size:18.7px;color:#000;transform:scaleX(0.9806);-webkit-text-stroke:0.2px currentColor;">4,45</div>
<div class="r" style="left:1493.60px;top:901.50px;width:123.00px;height:43.50px;background:#cdd2d9;"></div>
<div class="t" style="left:1535.58px;top:914.70px;font-size:18.7px;color:#000;transform:scaleX(0.9850);-webkit-text-stroke:0.2px currentColor;">4,52</div>
<svg class="s" style="left:1577.70px;top:919.10px" width="12" height="12" viewBox="0 0 12 12"><path d="M0.6 10.6L10.2 1M0.9 1H10.3V10.4" fill="none" stroke="#2aa35c" stroke-width="1.5"/></svg>
<div class="r" style="left:1618.80px;top:901.50px;width:115.90px;height:43.50px;background:#cdd2d9;"></div>
<div class="t" style="left:1649.68px;top:914.70px;font-size:18.7px;color:#000;transform:scaleX(0.9850);-webkit-text-stroke:0.2px currentColor;">4,62</div>
<svg class="s" style="left:1691.80px;top:919.10px" width="12" height="12" viewBox="0 0 12 12"><path d="M0.6 0.6L10.2 10.2M0.4 10.2H10.3V1.4" fill="none" stroke="#d81f33" stroke-width="1.5"/></svg>
<div class="r" style="left:1736.80px;top:901.50px;width:129.70px;height:43.50px;background:#cdd2d9;"></div>
<div class="t" style="left:1777.58px;top:914.70px;font-size:18.7px;color:#000;transform:scaleX(0.9834);-webkit-text-stroke:0.2px currentColor;">4,49</div>
<svg class="s" style="left:1819.70px;top:919.10px" width="12" height="12" viewBox="0 0 12 12"><path d="M0.6 0.6L10.2 10.2M0.4 10.2H10.3V1.4" fill="none" stroke="#d81f33" stroke-width="1.5"/></svg>
<div class="r" style="left:1275.10px;top:947.60px;width:103.50px;height:44.20px;background:#1a5e84;"></div>
<div class="t" style="left:1283.72px;top:964.10px;font-size:15.4px;font-weight:700;color:#fff;font-family:'DejaVu Sans Condensed', 'DejaVu Sans', sans-serif;transform:scaleX(1.0103);">ИТОГО</div>
<div class="r" style="left:1380.80px;top:947.60px;width:110.60px;height:44.20px;background:#e8ebee;"></div>
<div class="t" style="left:1416.63px;top:961.10px;font-size:18.7px;font-weight:700;color:#000;transform:scaleX(0.9693);-webkit-text-stroke:0.25px currentColor;">4,41</div>
<svg class="s" style="left:1458.60px;top:965.50px" width="12" height="12" viewBox="0 0 12 12"><path d="M0.6 0.6L10.2 10.2M0.4 10.2H10.3V1.4" fill="none" stroke="#d81f33" stroke-width="1.5"/></svg>
<div class="r" style="left:1493.60px;top:947.60px;width:123.00px;height:44.20px;background:#e8ebee;"></div>
<div class="t" style="left:1528.03px;top:961.10px;font-size:18.7px;font-weight:700;color:#000;transform:scaleX(0.9693);-webkit-text-stroke:0.25px currentColor;">4,41</div>
<svg class="s" style="left:1570.00px;top:965.50px" width="12" height="12" viewBox="0 0 12 12"><path d="M0.6 10.6L10.2 1M0.9 1H10.3V10.4" fill="none" stroke="#2aa35c" stroke-width="1.5"/></svg>
<div class="r" style="left:1618.80px;top:947.60px;width:115.90px;height:44.20px;background:#e8ebee;"></div>
<div class="t" style="left:1649.82px;top:961.10px;font-size:18.7px;font-weight:700;color:#000;transform:scaleX(0.9776);-webkit-text-stroke:0.25px currentColor;">4,67</div>
<svg class="s" style="left:1691.80px;top:965.50px" width="12" height="12" viewBox="0 0 12 12"><path d="M0.6 0.6L10.2 10.2M0.4 10.2H10.3V1.4" fill="none" stroke="#d81f33" stroke-width="1.5"/></svg>
<div class="r" style="left:1736.80px;top:947.60px;width:129.70px;height:44.20px;background:#e8ebee;"></div>
<div class="t" style="left:1775.42px;top:961.10px;font-size:18.7px;font-weight:700;color:#000;transform:scaleX(0.9756);-webkit-text-stroke:0.25px currentColor;">4,52</div>
<svg class="s" style="left:1817.40px;top:965.50px" width="12" height="12" viewBox="0 0 12 12"><path d="M0.6 10.6L10.2 1M0.9 1H10.3V10.4" fill="none" stroke="#2aa35c" stroke-width="1.5"/></svg>
<footer>
<span class="t" style="left:62.07px;top:1023.80px;font-size:8.3px;color:#8a8a8a;transform:scaleX(0.8383);">1</span>
<span class="t" style="left:70.58px;top:1024.40px;font-size:13.5px;color:#8a8a8a;word-spacing:-0.519px;transform:scaleX(1.1050);">База: всероссийский опрос (N=1600). Вопросы анкеты о качество сервиса онлайн- и офлайн-магазинов на каждом этапе покупки измерялись по 5-балльной полярной шкале: например, Удобство поиска товара = «Насколько легко вам было сориентироваться и</span>
<span class="t" style="left:61.17px;top:1037.80px;font-size:13.5px;color:#8a8a8a;word-spacing:0.057px;transform:scaleX(1.1050);">найти товар, который вы хотели купить?» [1 - Очень сложно … 5 - Очень просто]. Скорость поиска товара: «Насколько быстро вам удалось понять, что в магазине есть товар, который вы хотели приобрести?» [1 - Это заняло очень много времени … 5 - Очень</span>
<span class="t" style="left:61.34px;top:1051.30px;font-size:13.5px;color:#8a8a8a;word-spacing:-0.195px;transform:scaleX(1.0850);">быстро]. Эмоции на этапе поиска: «Как бы вы в целом оценили атмосферу торгового зала, когда зашли в магазин и пытались найти нужный товар?» [1 - Было очень некомфортно … 5 -  Было очень комфортно] и т.д.</span>
</footer>
</body></html>
